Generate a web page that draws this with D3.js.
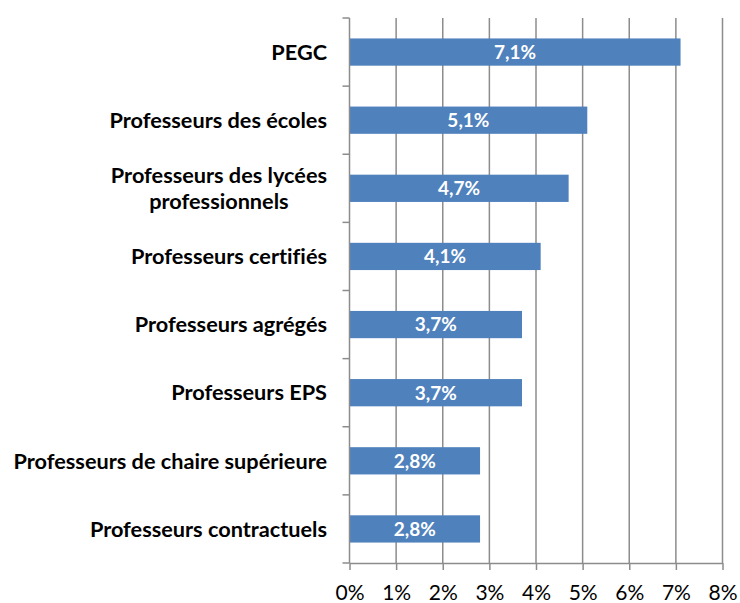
<!DOCTYPE html>
<html>
<head>
<meta charset="utf-8">
<script src="https://cdn.jsdelivr.net/npm/d3@7"></script>
<style>
  body { margin: 0; background: #fff; }
  svg { display: block; font-variant-ligatures: none; }
</style>
</head>
<body>
<div id="chart"></div>
<script>
// Data
const categories = [
  "PEGC",
  "Professeurs des écoles",
  "Professeurs des lycées\nprofessionnels",
  "Professeurs certifiés",
  "Professeurs agrégés",
  "Professeurs EPS",
  "Professeurs de chaire supérieure",
  "Professeurs contractuels"
];
const values = [7.1, 5.1, 4.7, 4.1, 3.7, 3.7, 2.8, 2.8];
const valueLabels = ["7,1%", "5,1%", "4,7%", "4,1%", "3,7%", "3,7%", "2,8%", "2,8%"];
const xTicks = [0, 1, 2, 3, 4, 5, 6, 7, 8];

const width = 740, height = 603;
const plot = { left: 349.5, right: 722.5, top: 18, bottom: 563 };
const fontFamily = "Lato, 'Open Sans', sans-serif";
const gridColor = "#8c8c8c";

const svg = d3.select("#chart").append("svg")
  .attr("width", width)
  .attr("height", height)
  .style("font-family", fontFamily);

const x = d3.scaleLinear().domain([0, 8]).range([plot.left, plot.right]);
const y = d3.scaleBand()
  .domain(d3.range(categories.length))
  .range([plot.top, plot.bottom])
  .paddingInner(0.6)
  .paddingOuter(0.3);

// Vertical gridlines
svg.append("g")
  .selectAll("line")
  .data(xTicks.slice(1))
  .join("line")
  .attr("x1", d => x(d)).attr("x2", d => x(d))
  .attr("y1", plot.top).attr("y2", plot.bottom)
  .attr("stroke", gridColor)
  .attr("stroke-width", 1.5);

// Bars
svg.append("g")
  .selectAll("rect")
  .data(values)
  .join("rect")
  .attr("x", x(0))
  .attr("y", (d, i) => y(i))
  .attr("width", d => x(d) - x(0))
  .attr("height", y.bandwidth())
  .attr("fill", "#4f81bd");

// Value labels in bars
svg.append("g")
  .selectAll("text")
  .data(values)
  .join("text")
  .attr("x", d => (x(0) + x(d)) / 2)
  .attr("y", (d, i) => y(i) + y.bandwidth() / 2)
  .attr("dy", "0.36em")
  .attr("text-anchor", "middle")
  .attr("fill", "#fff")
  .style("font-weight", "700")
  .style("font-size", "19px")
  .text((d, i) => valueLabels[i]);

// Bottom axis
const xAxis = svg.append("g")
  .attr("transform", `translate(0,${plot.bottom})`)
  .call(d3.axisBottom(x).tickValues(xTicks).tickFormat(d => d + "%").tickSize(7).tickSizeOuter(0));
xAxis.select(".domain").attr("stroke", gridColor).attr("stroke-width", 1.5);
xAxis.selectAll(".tick line").attr("stroke", gridColor).attr("stroke-width", 1.5);
xAxis.selectAll(".tick text")
  .attr("fill", "#000")
  .attr("y", 24)
  .attr("dy", "0.6em")
  .style("font-size", "21px")
  .style("font-family", fontFamily);

// Left axis line with ticks at category boundaries
const boundaries = d3.range(categories.length + 1).map(i => plot.top + i * (plot.bottom - plot.top) / categories.length);
const leftAxis = svg.append("g");
leftAxis.append("line")
  .attr("x1", plot.left).attr("x2", plot.left)
  .attr("y1", plot.top).attr("y2", plot.bottom)
  .attr("stroke", gridColor).attr("stroke-width", 1.5);
leftAxis.selectAll("line.tick")
  .data(boundaries)
  .join("line")
  .attr("class", "tick")
  .attr("x1", plot.left - 7).attr("x2", plot.left)
  .attr("y1", d => d).attr("y2", d => d)
  .attr("stroke", gridColor).attr("stroke-width", 1.5);

// Category labels (multi-line, centered block, right aligned)
const labelRight = 327;
const lineHeight = 26;
svg.append("g")
  .selectAll("text")
  .data(categories)
  .join("text")
  .style("font-weight", "700")
  .style("font-size", "21.7px")
  .attr("fill", "#000")
  .each(function (d, i) {
    const lines = d.split("\n");
    const t = d3.select(this);
    const cy = y(i) + y.bandwidth() / 2;
    const startY = cy - (lines.length - 1) * lineHeight / 2;
    t.selectAll("tspan")
      .data(lines)
      .join("tspan")
      .attr("y", (_, k) => startY + k * lineHeight)
      .attr("dy", "0.36em")
      .text(l => l);
    // measure for block alignment
    const widths = [];
    t.selectAll("tspan").each(function () { widths.push(this.getComputedTextLength()); });
    const maxW = d3.max(widths);
    t.attr("text-anchor", "middle");
    t.selectAll("tspan").attr("x", labelRight - maxW / 2);
  });
</script>
</body>
</html>
